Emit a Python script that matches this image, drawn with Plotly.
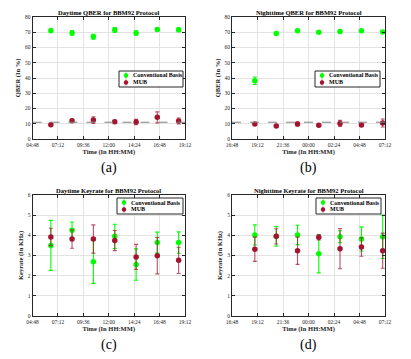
import plotly.graph_objects as go

# measurement times (daytime and nighttime runs)
day_times = ['2023-01-01 06:32', '2023-01-01 08:32', '2023-01-01 10:33', '2023-01-01 12:34',
             '2023-01-01 14:35', '2023-01-01 16:35', '2023-01-01 18:36']
night_times = ['2023-01-01 18:57', '2023-01-01 20:58', '2023-01-01 22:58', '2023-01-02 00:58',
               '2023-01-02 02:58', '2023-01-02 04:59', '2023-01-02 06:59']

# QBER (%)
day_qber_conv = [71.0, 69.5, 67.0, 71.5, 69.5, 71.8, 71.6]
day_qber_conv_err = [1.2, 1.5, 1.6, 1.6, 1.4, 1.0, 1.3]
day_qber_mub = [9.4, 12.0, 12.4, 11.3, 11.1, 14.2, 11.8]
day_qber_mub_err = [0.8, 1.0, 2.2, 0.9, 1.8, 3.6, 2.0]

night_qber_conv = [38.2, 69.2, 71.0, 70.0, 70.5, 71.0, 70.1]
night_qber_conv_err = [2.5, 0.8, 0.8, 0.8, 1.0, 0.8, 0.7]
night_qber_mub = [9.8, 8.5, 9.8, 9.0, 10.2, 9.2, 10.5]
night_qber_mub_err = [0.8, 0.8, 1.3, 0.7, 2.0, 0.8, 2.6]

qber_threshold = 11

# Keyrate (kHz)
day_key_conv = [3.50, 4.25, 2.69, 3.95, 2.55, 3.64, 3.64]
day_key_conv_err = [1.24, 0.41, 1.07, 0.60, 0.78, 0.52, 0.53]
day_key_mub = [3.92, 3.82, 3.82, 3.74, 2.93, 2.99, 2.76]
day_key_mub_err = [0.43, 0.46, 0.70, 0.50, 0.62, 0.90, 0.65]

night_key_conv = [4.02, 3.95, 4.02, 3.09, 3.93, 3.82, 3.93]
night_key_conv_err = [0.50, 0.49, 0.48, 0.95, 0.30, 0.60, 1.08]
night_key_mub = [3.31, 3.95, 3.24, 3.90, 3.34, 3.42, 3.24]
night_key_mub_err = [0.60, 0.38, 0.68, 0.13, 1.00, 0.46, 0.87]

series_names = ['Conventional Basis', 'MUB']

GREEN = 'rgb(0,255,0)'
RED = 'rgb(162,20,47)'
RED_ERR = 'rgba(162,20,47,0.75)'
FONT = 'Liberation Serif'
W, H = 411, 359

panels = [
    dict(x=day_times, conv=day_qber_conv, conv_err=day_qber_conv_err,
         mub=day_qber_mub, mub_err=day_qber_mub_err, n=''),
    dict(x=night_times, conv=night_qber_conv, conv_err=night_qber_conv_err,
         mub=night_qber_mub, mub_err=night_qber_mub_err, n='2'),
    dict(x=day_times, conv=day_key_conv, conv_err=day_key_conv_err,
         mub=day_key_mub, mub_err=day_key_mub_err, n='3'),
    dict(x=night_times, conv=night_key_conv, conv_err=night_key_conv_err,
         mub=night_key_mub, mub_err=night_key_mub_err, n='4'),
]

fig = go.Figure()
for p in panels:
    fig.add_trace(go.Scatter(
        x=p['x'], y=p['conv'], mode='markers', name=series_names[0],
        xaxis='x' + p['n'], yaxis='y' + p['n'], cliponaxis=False,
        marker=dict(color=GREEN, size=5.5),
        error_y=dict(type='data', array=p['conv_err'], color=GREEN, thickness=1.1, width=2)))
    fig.add_trace(go.Scatter(
        x=p['x'], y=p['mub'], mode='markers', name=series_names[1],
        xaxis='x' + p['n'], yaxis='y' + p['n'], cliponaxis=False,
        marker=dict(color=RED, size=5.5),
        error_y=dict(type='data', array=p['mub_err'], color=RED_ERR, thickness=1.1, width=2)))

# axis domains (paper coords)
left_dom = [32.5 / W, 185 / W]
right_dom = [232 / W, 385 / W]
top_dom = [1 - 139 / H, 1 - 17 / H]
bot_dom = [1 - 316 / H, 1 - 195 / H]

ax_common = dict(showline=True, linecolor='#262626', linewidth=1, mirror='ticks',
                 ticks='inside', ticklen=3, tickcolor='#262626', automargin=False,
                 showgrid=True, gridcolor='#e3e3e3', gridwidth=1, zeroline=False,
                 tickfont=dict(family=FONT, size=5.5, color='#262626'))

day_range = ['2023-01-01 04:48', '2023-01-01 19:12']
night_range = ['2023-01-01 16:48', '2023-01-02 07:12']
dtick_ms = 2.4 * 3600 * 1000


def xax(dom, rng, anchor):
    return dict(ax_common, domain=dom, range=rng, type='date', anchor=anchor,
                tick0=rng[0], dtick=dtick_ms, tickformat='%H:%M',
                title=dict(text='<b>Time (In HH:MM)</b>', standoff=2,
                           font=dict(family=FONT, size=6.5, color='#262626')))


def yax(dom, rng, dt, anchor, label):
    return dict(ax_common, domain=dom, range=rng, dtick=dt, anchor=anchor,
                title=dict(text='<b>' + label + '</b>', standoff=3,
                           font=dict(family=FONT, size=6.5, color='#262626')))


fig.update_layout(
    width=W, height=H, margin=dict(l=0, r=0, t=0, b=0),
    plot_bgcolor='white', paper_bgcolor='white', showlegend=False,
    xaxis=xax(left_dom, day_range, 'y'),
    yaxis=yax(top_dom, [0, 80], 10, 'x', 'QBER (In %)'),
    xaxis2=xax(right_dom, night_range, 'y2'),
    yaxis2=yax(top_dom, [0, 80], 10, 'x2', 'QBER (In %)'),
    xaxis3=xax(left_dom, day_range, 'y3'),
    yaxis3=yax(bot_dom, [0, 6], 1, 'x3', 'Keyrate (In KHz)'),
    xaxis4=xax(right_dom, night_range, 'y4'),
    yaxis4=yax(bot_dom, [0, 6], 1, 'x4', 'Keyrate (In KHz)'),
)

# QBER threshold line
for n in ['', '2']:
    fig.add_shape(type='line', xref='x' + n + ' domain', yref='y' + n,
                  x0=0, x1=1, y0=qber_threshold, y1=qber_threshold,
                  line=dict(color='#808080', width=1, dash='dash'))

titles = ['Daytime QBER for BBM92 Protocol', 'Nighttime QBER for BBM92 Protocol',
          'Daytime Keyrate for BBM92 Protocol', 'Nighttime Keyrate for BBM92 Protocol']
letters = ['(a)', '(b)', '(c)', '(d)']
for i, n in enumerate(['', '2', '3', '4']):
    dom_top = top_dom[1] if i < 2 else bot_dom[1]
    fig.add_annotation(text='<b>' + titles[i] + '</b>', xref='x' + n + ' domain', yref='paper',
                       x=0.5, y=dom_top, yanchor='bottom', showarrow=False, yshift=-1,
                       font=dict(family=FONT, size=6.5, color='black'))
    fig.add_annotation(text=letters[i], xref='x' + n + ' domain', yref='y' + n + ' domain',
                       x=0.5, y=0, yanchor='top', showarrow=False, yshift=-19,
                       font=dict(family=FONT, size=14, color='black'))

# hand-drawn legend boxes (MATLAB-style, compact): left, top, right, bottom in px
legend_boxes = [(119, 71, 183, 87), (315, 71, 380, 87), (117, 198, 183, 214), (316, 198, 381, 214)]
for (l, t, r, b) in legend_boxes:
    fig.add_shape(type='rect', xref='paper', yref='paper',
                  x0=l / W, x1=r / W, y0=1 - b / H, y1=1 - t / H,
                  fillcolor='white', line=dict(color='#262626', width=1), layer='above')
    for k, (name, col, ecol) in enumerate(zip(series_names, [GREEN, RED], [GREEN, RED_ERR])):
        mx = (l + 7) / W
        my = 1 - (t + 4.5 + k * 7) / H
        fig.add_shape(type='line', xref='paper', yref='paper', xsizemode='pixel', ysizemode='pixel',
                      xanchor=mx, yanchor=my, x0=0, x1=0, y0=-3, y1=3,
                      line=dict(color=ecol, width=1.1), layer='above')
        fig.add_shape(type='circle', xref='paper', yref='paper', xsizemode='pixel', ysizemode='pixel',
                      xanchor=mx, yanchor=my, x0=-2.2, x1=2.2, y0=-2.2, y1=2.2,
                      fillcolor=col, line=dict(width=0), layer='above')
        fig.add_annotation(text='<b>' + name + '</b>', xref='paper', yref='paper',
                           x=(l + 12) / W, y=my, xanchor='left', yanchor='middle', showarrow=False,
                           font=dict(family=FONT, size=6, color='black'))

fig.write_html('out.html', config={'displayModeBar': False},
               post_script="document.body.style.margin='0px';")
